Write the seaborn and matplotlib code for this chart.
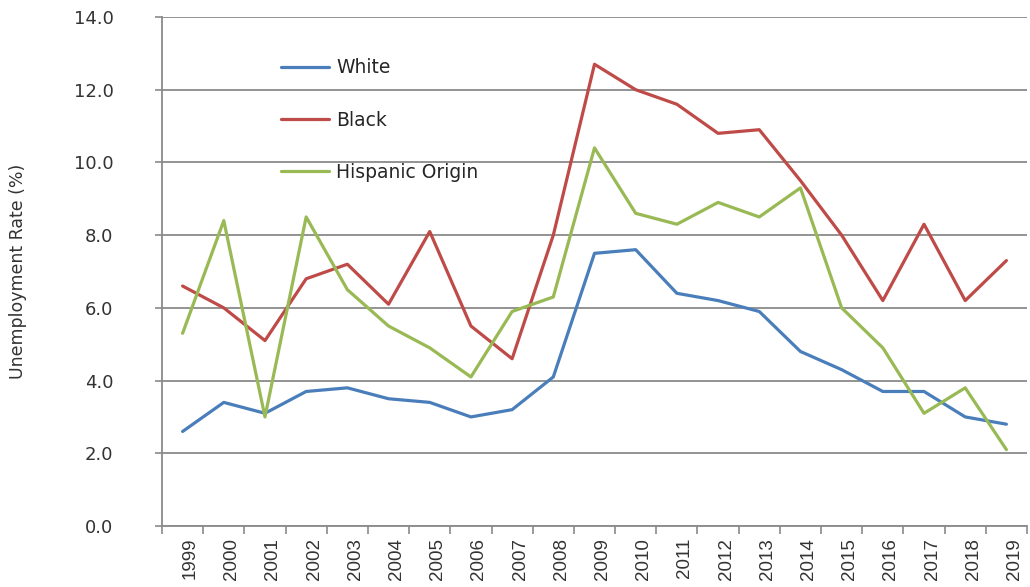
import matplotlib
matplotlib.use("Agg")
import matplotlib.pyplot as plt
import matplotlib.transforms as mtransforms
from matplotlib.ticker import FixedLocator, NullFormatter
import pandas as pd
import seaborn as sns

# Annual unemployment rate (%) by group
years = [1999, 2000, 2001, 2002, 2003, 2004, 2005, 2006, 2007, 2008, 2009,
         2010, 2011, 2012, 2013, 2014, 2015, 2016, 2017, 2018, 2019]
white = [2.6, 3.4, 3.1, 3.7, 3.8, 3.5, 3.4, 3.0, 3.2, 4.1, 7.5,
         7.6, 6.4, 6.2, 5.9, 4.8, 4.3, 3.7, 3.7, 3.0, 2.8]
black = [6.6, 6.0, 5.1, 6.8, 7.2, 6.1, 8.1, 5.5, 4.6, 8.0, 12.7,
         12.0, 11.6, 10.8, 10.9, 9.5, 8.0, 6.2, 8.3, 6.2, 7.3]
hispanic = [5.3, 8.4, 3.0, 8.5, 6.5, 5.5, 4.9, 4.1, 5.9, 6.3, 10.4,
            8.6, 8.3, 8.9, 8.5, 9.3, 6.0, 4.9, 3.1, 3.8, 2.1]
groups = ["White", "Black", "Hispanic Origin"]
colors = ["#4A7EBB", "#BE4B48", "#98B954"]
y_ticks = [0.0, 2.0, 4.0, 6.0, 8.0, 10.0, 12.0, 14.0]

df = pd.concat([
    pd.DataFrame({"Year": years, "Rate": vals, "Group": name})
    for name, vals in zip(groups, [white, black, hispanic])
])

sns.set_theme(style="white")
plt.rcParams["font.family"] = ["DejaVu Sans"]

GRID = "#8a8a8a"
TEXT = "#333333"

fig = plt.figure(figsize=(10.30, 5.87), dpi=100)
ax = fig.add_axes([162 / 1030, 61 / 587, 865 / 1030, 509 / 587])

sns.lineplot(data=df, x="Year", y="Rate", hue="Group", hue_order=groups,
             palette=colors, linewidth=2.3, ax=ax, sort=False)

ax.set_xlim(years[0] - 0.5, years[-1] + 0.5)
ax.set_ylim(y_ticks[0], y_ticks[-1])

# horizontal gridlines
ax.set_yticks(y_ticks)
ax.set_yticklabels([f"{v:.1f}" for v in y_ticks])
ax.yaxis.grid(True, color=GRID, linewidth=1.3)
ax.xaxis.grid(False)
ax.set_axisbelow(True)

for side in ("top", "right"):
    ax.spines[side].set_visible(False)
for side in ("left", "bottom"):
    ax.spines[side].set_color(GRID)
    ax.spines[side].set_linewidth(1.3)

ax.tick_params(axis="y", which="major", direction="out", length=5, width=1.2,
               color=GRID, pad=30, labelsize=13, labelcolor=TEXT, left=True)

# year labels centred on points, tick marks between categories
ax.set_xticks(years)
ax.set_xticklabels([str(y) for y in years], rotation=90,
                   fontfamily="Liberation Sans", fontsize=13.5, color=TEXT)
ax.xaxis.set_minor_locator(FixedLocator([y - 0.5 for y in years] + [years[-1] + 0.5]))
ax.xaxis.set_minor_formatter(NullFormatter())
ax.tick_params(axis="x", which="major", length=0, pad=8.5, bottom=True)
ax.tick_params(axis="x", which="minor", direction="out", length=6, width=1.2,
               color=GRID, bottom=True)
shift = mtransforms.ScaledTranslation(0.08, 0, fig.dpi_scale_trans)
for lbl in ax.get_xticklabels():
    lbl.set_transform(lbl.get_transform() + shift)

ax.set_xlabel("")
ax.set_ylabel("Unemployment Rate (%)", fontsize=12.5, color=TEXT)
ax.yaxis.set_label_coords(-0.156, 0.5)

handles, labels = ax.get_legend_handles_labels()
leg = ax.legend(handles, labels, loc="upper left", bbox_to_anchor=(0.138, 0.919),
                frameon=False, fontsize=13.5, handlelength=2.55, handletextpad=0.36,
                labelspacing=1.78, borderpad=0, borderaxespad=0)
for t in leg.get_texts():
    t.set_color("#262626")
for h in leg.get_lines():
    h.set_linewidth(2.3)

fig.savefig("out.png", dpi=100)
